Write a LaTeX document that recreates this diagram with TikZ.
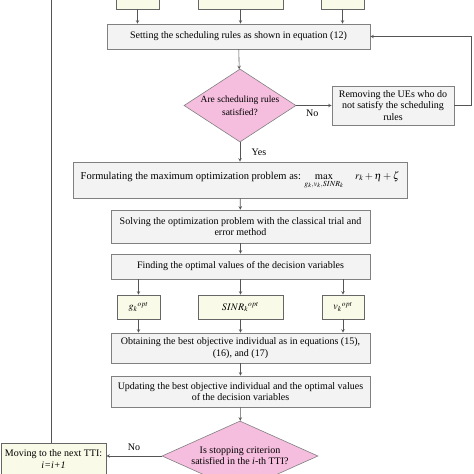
\documentclass[tikz,border=0pt]{standalone}
\usepackage{mathptmx}
\usepackage{fontspec}
\setmainfont{Liberation Serif}
\usetikzlibrary{shapes.geometric, positioning, arrows}

\definecolor{boxgray}{RGB}{243,243,243}
\definecolor{boxcream}{RGB}{250,250,232}
\definecolor{decpink}{RGB}{246,190,222}
\definecolor{linegray}{RGB}{85,85,85}

\begin{document}
\begin{tikzpicture}[
    > = stealth,
    x = 1pt,
    y = -1pt,
    font = \fontsize{10}{11.5}\selectfont,
    line width = 0.6pt
]

% Setup the styles for the blocks
\tikzstyle{process}=[draw=gray, fill=boxgray, rectangle, align=center, inner sep=1pt]
\tikzstyle{result}=[draw=gray!80!black, fill=boxcream, rectangle, align=center, inner sep=1pt]
\tikzstyle{decision}=[draw=gray, fill=decpink, diamond, align=center, inner sep=-1pt]
\tikzstyle{flow}=[draw=linegray, ->]

\useasboundingbox (0,0) rectangle (474,474);
\clip (0,0) rectangle (474,474);

% Draw the blocks
\node[result, minimum width=43, minimum height=30] (topg) at (137.5,-6) {};
\node[result, minimum width=85, minimum height=30] (topsinr) at (240.5,-6) {};
\node[result, minimum width=43, minimum height=30] (topv) at (342.5,-6) {};

\node[process, minimum width=263, minimum height=25] (set) at (238.5,36.5)
    {Setting the scheduling rules as shown in equation (12)};
\node[decision, aspect=1.53, minimum width=112, minimum height=73, font=\fontsize{9.5}{13}\selectfont] (ask) at (240,105.5)
    {Are scheduling rules\\satisfied?};
\node[process, minimum width=122, minimum height=39] (remove) at (393,105.5)
    {Removing the UEs who do\\not satisfy the scheduling\\rules};
\node[process, minimum width=334, minimum height=36, font=\fontsize{10.5}{13}\selectfont] (formulate) at (240,180)
    {Formulating the maximum optimization problem as: $\max\limits_{g_k,v_k,SINR_k}\quad r_k+\eta+\zeta$};
\node[process, minimum width=259, minimum height=33] (solve) at (240.5,226.5)
    {Solving the optimization problem with the classical trial and\\error method};
\node[process, minimum width=259, minimum height=25] (find) at (240.5,266.5)
    {Finding the optimal values of the decision variables};

\node[result, minimum width=43, minimum height=24] (optg) at (138.5,307) {${g_k}^{opt}$};
\node[result, minimum width=85, minimum height=24] (optsinr) at (240.5,307) {${SINR_k}^{opt}$};
\node[result, minimum width=42, minimum height=24] (optv) at (343,307) {${v_k}^{opt}$};

\node[process, minimum width=259, minimum height=30] (obtain) at (240.5,348)
    {Obtaining the best objective individual as in equations (15),\\(16), and (17)};
\node[process, minimum width=259, minimum height=31] (update) at (240.5,391.5)
    {Updating the best objective individual and the optimal values\\of the decision variables};
\node[decision, aspect=2.23, minimum width=156, minimum height=70] (stop) at (240,456)
    {Is stopping criterion\\satisfied in the \textit{i}-th TTI?};
\node[result, minimum width=105, minimum height=32] (move) at (53.5,459)
    {Moving to the next TTI:\\\textit{i=i+1}};

\coordinate (loopend) at (51,-5);

% Draw the connectors
\draw[flow] (topg) -- (topg |- set.north);
\draw[flow] (topsinr) -- (topsinr |- set.north);
\draw[flow] (topv) -- (topv |- set.north);
\draw[flow] (set) -- (ask);
\draw[flow] (ask) -- node[below, pos=0.45, yshift=-1pt] {No} (remove);
\draw[flow] (remove.east) -- ++(17,0) |- (set.east);
\draw[flow] (ask) -- node[right, pos=0.5, xshift=8pt] {Yes} (formulate);
\draw[flow] (formulate) -- (solve);
\draw[flow] (solve) -- (find);
\draw[flow] (optg |- find.south) -- (optg);
\draw[flow] (optsinr |- find.south) -- (optsinr);
\draw[flow] (optv |- find.south) -- (optv);
\draw[flow] (optg) -- (optg |- obtain.north);
\draw[flow] (optsinr) -- (optsinr |- obtain.north);
\draw[flow] (optv) -- (optv |- obtain.north);
\draw[flow] (obtain) -- (update);
\draw[flow] (update) -- (stop);
\draw[flow] (stop.west) -- node[above, pos=0.5, yshift=2pt] {No} (stop.west -| move.east);
\draw[linegray] (loopend |- move.north) -- (loopend);

\end{tikzpicture}
\end{document}
